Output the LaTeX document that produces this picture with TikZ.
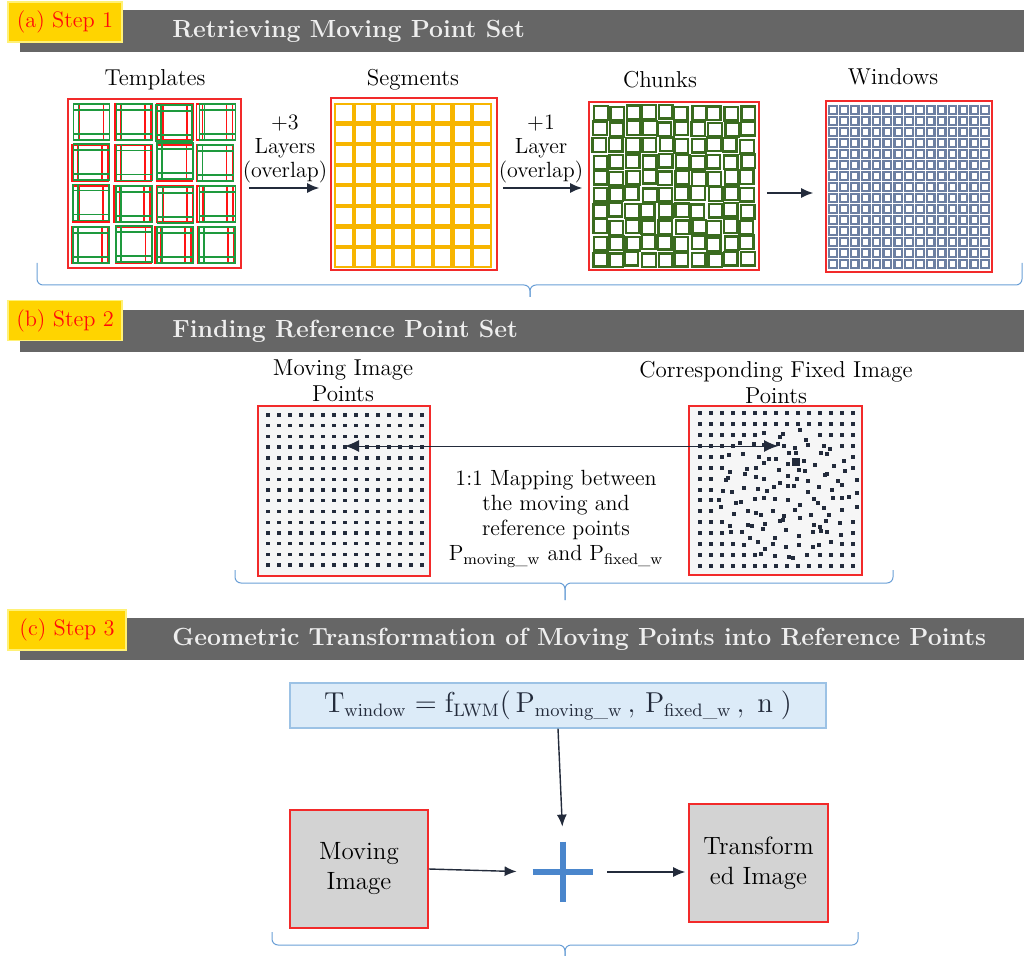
\documentclass[tikz,border=0pt]{standalone}
\usepackage{amsmath}
\usepackage{tikz}
\usetikzlibrary{arrows.meta,positioning,calc}
\definecolor{headgray}{HTML}{666666}
\definecolor{tagyellow}{HTML}{FFD400}
\definecolor{tagedge}{HTML}{FFF176}
\definecolor{tagred}{HTML}{FF0A0A}
\definecolor{titlegray}{HTML}{EEEEEE}
\definecolor{framered}{HTML}{F22A2A}
\definecolor{tmplred}{HTML}{FF1414}
\definecolor{tmplgreen}{HTML}{1E9A3E}
\definecolor{segorange}{HTML}{F7B500}
\definecolor{chunkgreen}{HTML}{3A6B1F}
\definecolor{winblue}{HTML}{6C7FA2}
\definecolor{navy}{HTML}{232B3B}
\definecolor{bracecol}{HTML}{6A9FD6}
\definecolor{pointbg}{HTML}{F6F6F6}
\definecolor{formfill}{HTML}{DCEBF8}
\definecolor{formedge}{HTML}{9CC2E5}
\definecolor{imggray}{HTML}{D3D3D3}
\definecolor{plusblue}{HTML}{4A86CC}

\begin{document}
\begin{tikzpicture}[x=0.5pt,y=-0.5pt,
  steptag/.style={fill=tagyellow,draw=tagedge,line width=0.6pt,text=tagred,
    font=\fontsize{11.2}{13}\selectfont,minimum height=20pt,inner sep=0pt},
  title/.style={anchor=west,inner sep=0pt,text=titlegray,font=\fontsize{12.4}{14}\selectfont\bfseries},
  frame/.style={draw=framered,line width=0.8pt,inner sep=0pt},
  lbl/.style={font=\fontsize{11.5}{13}\selectfont,align=center,text=black},
  layer/.style={font=\fontsize{11}{12}\selectfont,align=center},
  imgbox/.style={frame,fill=imggray,font=\fontsize{12.5}{15}\selectfont,align=center},
  arr/.style={-{Latex[length=6pt,width=5pt]},line width=0.7pt,draw=navy},
  dblarr/.style={{Latex[length=7pt,width=6pt]}-{Latex[length=7pt,width=6pt]},line width=0.5pt,draw=navy},
  brace/.style={draw=bracecol,line width=0.5pt,rounded corners=3}]

  \useasboundingbox (0,0) rectangle (1026,956);

  % headers
  \fill[headgray] (20,10) rectangle (1024,52);
  \node[title] (title1) at (172,31) {Retrieving Moving Point Set};
  \node[steptag,minimum width=57pt] (step1) at (65,22) {(a) Step 1};
  \fill[headgray] (20,310) rectangle (1024,352);
  \node[title] (title2) at (172,331) {Finding Reference Point Set};
  \node[steptag,minimum width=57pt] (step2) at (65,320.5) {(b) Step 2};
  \fill[headgray] (20,618) rectangle (1024,660);
  \node[title] (title3) at (172,639) {Geometric Transformation of Moving Points into Reference Points};
  \node[steptag,minimum width=59pt] (step3) at (67,630) {(c) Step 3};

  % step 1: templates
  \pgfmathsetseed{11}
  \foreach \i in {0,...,3} \foreach \j in {0,...,3} {
    \pgfmathsetmacro\xo{71+41.7*\i}
    \pgfmathsetmacro\yo{102+41*\j}
    \pgfmathsetmacro\ra{1.5+rand*1.5}
    \pgfmathsetmacro\rb{2.5+rand*1.5}
    \pgfmathsetmacro\rc{1.5+rand*1.5}
    \draw[tmplred,line width=0.8pt] (\xo+\ra,\yo+2) rectangle (\xo+\ra+36,\yo+38);
    \draw[tmplred,line width=0.8pt] (\xo+\ra+6,\yo+2) -- (\xo+\ra+6,\yo+38)
      (\xo+\ra+30,\yo+2) -- (\xo+\ra+30,\yo+38);
    \draw[tmplgreen,line width=0.8pt] (\xo+\rb,\yo+\rc) rectangle (\xo+\rb+36,\yo+\rc+36);
    \draw[tmplgreen,line width=0.8pt] (\xo+\rb,\yo+\rc+6) -- (\xo+\rb+36,\yo+\rc+6)
      (\xo+\rb,\yo+\rc+30) -- (\xo+\rb+36,\yo+\rc+30);
    \draw[tmplgreen,line width=0.8pt] (\xo+\rb+5,\yo+\rc) -- (\xo+\rb+5,\yo+\rc+36);
  }
  \node[frame,minimum width=86.5pt,minimum height=84.5pt] (tmpl) at (154.5,183.5) {};
  \node[lbl] (tmpllbl) at (155,80) {Templates};

  % step 1: segments
  \foreach \i in {0,...,7} \foreach \j in {0,...,7}
    \draw[segorange,line width=1.1pt] ({335+19.75*\i},{104+20.6*\j}) rectangle ++(17.75,18.6);
  \node[frame,minimum width=83pt,minimum height=86pt] (seg) at (414,184) {};
  \node[lbl] (seglbl) at (413,80) {Segments};

  % step 1: chunks
  \foreach \i in {0,...,9} \foreach \j in {0,...,9} {
    \pgfmathsetmacro\dx{rand*1.2}
    \pgfmathsetmacro\dy{rand*1.2}
    \draw[chunkgreen,line width=1.2pt] ({593+16.4*\i+\dx},{106+16.3*\j+\dy}) rectangle ++(13.6,13.6);
  }
  \node[frame,minimum width=85pt,minimum height=84pt] (chunk) at (674,186) {};
  \node[lbl] (chunklbl) at (660,80) {Chunks};

  % step 1: windows
  \foreach \i in {0,...,14} \foreach \j in {0,...,14}
    \draw[winblue,line width=1.15pt] ({829.3+10.85*\i},{106.3+11*\j}) rectangle ++(7.6,7.6);
  \node[frame,minimum width=83pt,minimum height=85.5pt] (win) at (909,186.5) {};
  \node[lbl] (winlbl) at (893,77) {Windows};

  \draw[arr,shorten <=3.5pt,shorten >=5.5pt] ([yshift=-2.25pt]tmpl.east) -- ([yshift=-2pt]seg.west);
  \draw[arr,shorten <=2.5pt,shorten >=3pt] ([yshift=-2pt]seg.east) -- ([yshift=-1pt]chunk.west);
  \draw[arr,shorten <=3.5pt,shorten >=6pt] ([yshift=-3.5pt]chunk.east) -- ([yshift=-3.25pt]win.west);
  \node[layer] (lay3) at (285,149) {+3\\Layers\\(overlap)};
  \node[layer] (lay1) at (541,149) {+1\\Layer\\(overlap)};

  \draw[brace] (37,263) -- (37,285) -- (530,285) -- (530,297);
  \draw[brace] (1022,263) -- (1022,285) -- (530,285) -- (530,297);

  % step 2: point sets
  \node[frame,fill=pointbg,minimum width=86pt,minimum height=85pt] (movpts) at (344,491) {};
  \foreach \i in {0,...,14} \foreach \j in {0,...,14}
    \fill[navy] ({268+11*\i-1.7},{415+10.72*\j-1.7}) rectangle ++(3.4,3.4);
  \node[lbl] (movlbl) at (343,381) {Moving Image\\Points};

  \node[frame,fill=pointbg,minimum width=86.5pt,minimum height=84.5pt] (fixpts) at (775.5,490.5) {};
  \pgfmathsetseed{5}
  \foreach \i in {0,...,14} \foreach \j in {0,...,14} {
    \pgfmathsetmacro\dd{veclen(\i-8,\j-7.5)}
    \pgfmathsetmacro\dx{(\dd<6.2)*rand*5}
    \pgfmathsetmacro\dy{(\dd<6.2)*rand*5}
    \fill[navy] ({700+10.9*\i+\dx-2},{413+10.93*\j+\dy-2}) rectangle ++(4,4);
  }
  \fill[navy] (792,458) rectangle (800,466);
  \node[lbl] (fixlbl) at (776,383) {Corresponding Fixed Image\\Points};

  \coordinate (mapL) at (345,446);
  \coordinate (mapR) at (778,446);
  \draw[dblarr] (mapL) -- (mapR);
  \node[lbl,font=\fontsize{11}{12.5}\selectfont] (maptxt) at (556,519)
    {1:1 Mapping between\\the moving and\\reference points\\
     P$_{\text{moving\_w}}$ and P$_{\text{fixed\_w}}$};

  \draw[brace] (235,570) -- (235,583) -- (565,583) -- (565,600);
  \draw[brace] (893,570) -- (893,583) -- (565,583) -- (565,600);

  % step 3: transformation
  \node[draw=formedge,fill=formfill,line width=0.6pt,minimum width=268pt,minimum height=22.5pt,
    text=navy,font=\fontsize{13.4}{16}\selectfont] (lwm) at (558,705.5)
    {$\mathrm{T_{window}} = \mathrm{f_{LWM}}(\,\mathrm{P}_{\mathrm{moving\_w}}\,,\,\mathrm{P}_{\mathrm{fixed\_w}}\,,\;\mathrm{n}\;)$};

  \node[imgbox,minimum width=69pt,minimum height=59pt] (movimg) at (359,869) {Moving\\Image};
  \node[imgbox,minimum width=69.5pt,minimum height=59pt] (trimg) at (758.5,863) {Transform\\ed Image};
  \node[minimum size=30pt,inner sep=0pt] (plus) at (563,872) {};
  \draw[plusblue,line width=2.6pt] (plus.north) -- (plus.south) (plus.west) -- (plus.east);

  \draw[arr,shorten >=7.5pt] (lwm.south) -- (plus.north);
  \draw[arr,shorten >=8pt] (movimg.east) -- (plus.west);
  \draw[arr,shorten <=7pt,shorten >=1.5pt] (plus.east) -- ([yshift=-4.5pt]trimg.west);

  \draw[brace] (272,932) -- (272,945) -- (565,945) -- (565,956);
  \draw[brace] (858,932) -- (858,945) -- (565,945) -- (565,956);
\end{tikzpicture}
\end{document}
